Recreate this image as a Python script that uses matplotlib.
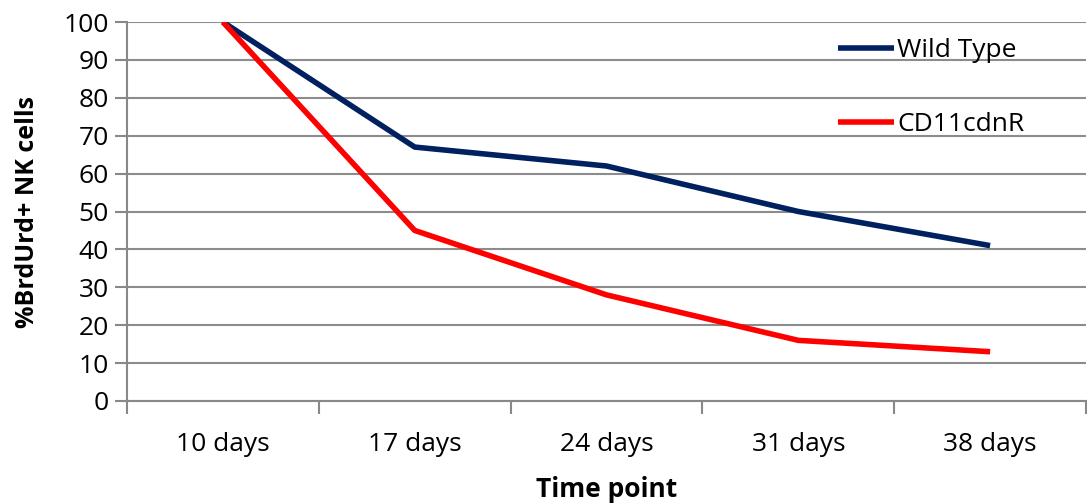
import matplotlib
matplotlib.use("Agg")
import matplotlib.pyplot as plt
import numpy as np

# chart data
time_points = ["10 days", "17 days", "24 days", "31 days", "38 days"]
wild_type = [100, 67, 62, 50, 41]
cd11cdnr = [100, 45, 28, 16, 13]

plt.rcParams["font.family"] = ["Open Sans", "DejaVu Sans"]

fig = plt.figure(figsize=(10.87, 5.04), dpi=100)
ax = fig.add_axes([127 / 1087, 1 - 401 / 504, (1086 - 127) / 1087, (401 - 22) / 504])

x = np.arange(len(time_points))
ax.plot(x, wild_type, color="#002060", lw=4, label="Wild Type", solid_capstyle="butt")
ax.plot(x, cd11cdnr, color="#FF0000", lw=4, label="CD11cdnR", solid_capstyle="butt")

ax.set_xlim(-0.5, len(time_points) - 0.5)
ax.set_ylim(0, 100)
ax.set_yticks(range(0, 101, 10))
ax.tick_params(axis="y", labelsize=19, length=9, color="#888888", width=1.5, pad=4)
ax.grid(axis="y", color="#8c8c8c", lw=1.5)
ax.set_axisbelow(True)

ax.set_xticks(x)
ax.set_xticklabels(time_points)
ax.tick_params(axis="x", length=0, labelsize=19, pad=22)
ax.set_xticks(np.arange(-0.5, len(time_points)), minor=True)
ax.tick_params(axis="x", which="minor", length=9, color="#888888", width=1.5)

for s in ["top", "right"]:
    ax.spines[s].set_visible(False)
for s in ["left", "bottom"]:
    ax.spines[s].set_color("#888888")
    ax.spines[s].set_linewidth(1.5)

ax.set_ylabel("%BrdUrd+ NK cells", fontsize=18, fontweight="bold", labelpad=17)
ax.set_xlabel("Time point", fontsize=19, fontweight="bold", labelpad=14)

leg = ax.legend(loc="upper left", bbox_to_anchor=(0.717, 1.02), frameon=False,
                fontsize=19, handlelength=2.1, handletextpad=0.12, labelspacing=1.85)

fig.savefig("out.png", dpi=100)
